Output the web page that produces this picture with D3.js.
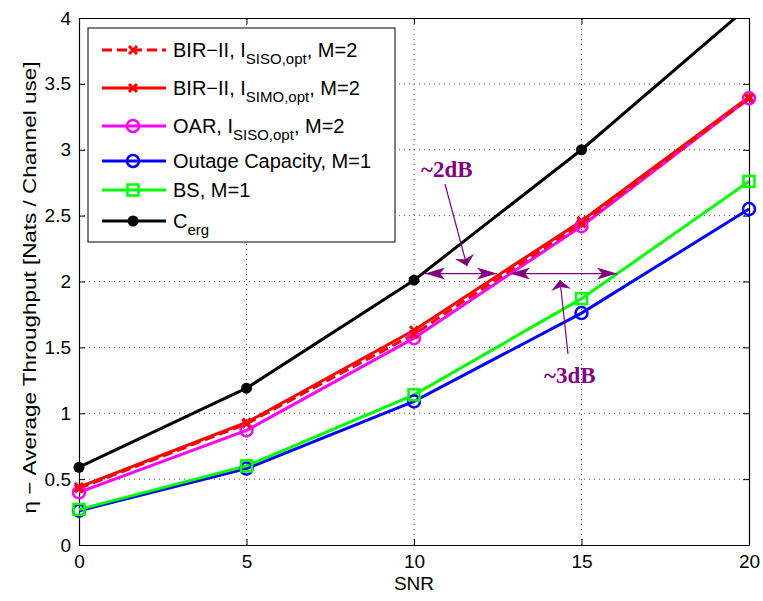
<!DOCTYPE html>
<html><head><meta charset="utf-8">
<script src="https://cdn.jsdelivr.net/npm/d3@7"></script>
<style>body{margin:0;background:#fff}svg{display:block}</style>
</head><body><div id="c"></div>
<script>
const snr = [0, 5, 10, 15, 20];
const birSiso = [0.43, 0.92, 1.60, 2.44, 3.39];
const birSimo = [0.44, 0.93, 1.63, 2.46, 3.40];
const oar = [0.40, 0.87, 1.57, 2.42, 3.39];
const outage = [0.26, 0.58, 1.09, 1.76, 2.55];
const bs = [0.27, 0.60, 1.14, 1.87, 2.76];
const cerg = [0.59, 1.19, 2.01, 3.00, 4.09];
const xTicks = [0, 5, 10, 15, 20];
const yTicks = [0, 0.5, 1, 1.5, 2, 2.5, 3, 3.5, 4];

const SANS = '"Liberation Sans",Arial,Helvetica,sans-serif';
const SERIF = '"Liberation Serif","Times New Roman",serif';
const W = 763, H = 601;
const m = {l: 79, r: 14, t: 18, b: 56};
const svg = d3.select("#c").append("svg").attr("width", W).attr("height", H)
  .attr("font-family", SANS);
const x = d3.scaleLinear().domain([0, 20]).range([m.l, W - m.r]);
const y = d3.scaleLinear().domain([0, 4]).range([H - m.b, m.t]);

svg.append("defs").append("clipPath").attr("id", "clip")
  .append("rect").attr("x", m.l).attr("y", m.t).attr("width", x(20) - m.l).attr("height", y(0) - m.t);

// grid
const g = svg.append("g");
g.selectAll(".gx").data(xTicks.slice(1, -1)).enter().append("line")
  .attr("x1", d => x(d)).attr("x2", d => x(d)).attr("y1", y(0)).attr("y2", y(4))
  .attr("stroke", "#000").attr("stroke-width", 0.7).attr("stroke-dasharray", "1,4");
g.selectAll(".gy").data(yTicks.slice(1, -1)).enter().append("line")
  .attr("y1", d => y(d)).attr("y2", d => y(d)).attr("x1", x(0)).attr("x2", x(20))
  .attr("stroke", "#000").attr("stroke-width", 0.7).attr("stroke-dasharray", "1,4");

// axes
const ax = svg.append("g").attr("transform", `translate(0,${y(0)})`)
  .call(d3.axisBottom(x).tickValues(xTicks).tickSizeInner(-6).tickSizeOuter(0).tickPadding(13));
const ay = svg.append("g").attr("transform", `translate(${x(0)},0)`)
  .call(d3.axisLeft(y).tickValues(yTicks).tickSizeInner(-6).tickSizeOuter(0).tickPadding(8).tickFormat(d3.format("")));
const axT = svg.append("g").attr("transform", `translate(0,${y(4)})`)
  .call(d3.axisTop(x).tickValues(xTicks).tickSizeInner(-6).tickSizeOuter(0).tickFormat(""));
const ayR = svg.append("g").attr("transform", `translate(${x(20)},0)`)
  .call(d3.axisRight(y).tickValues(yTicks).tickSizeInner(-6).tickSizeOuter(0).tickFormat(""));
[ax, ay, axT, ayR].forEach(a => {
  a.attr("font-family", SANS).attr("font-size", 19);
  a.select(".domain").attr("stroke", "#000").attr("stroke-width", 1.2);
  a.selectAll(".tick line").attr("stroke", "#000");
  a.selectAll("text").attr("fill", "#000");
});
ax.selectAll("text").attr("dy", "0.5em");

svg.append("text").attr("x", x(10)).attr("y", 590).attr("text-anchor", "middle")
  .attr("font-size", 19).text("SNR");
svg.append("text").attr("transform", `translate(36,${(y(0) + y(4)) / 2 + 6}) rotate(-90)`)
  .attr("text-anchor", "middle").attr("font-size", 19)
  .attr("textLength", 452).attr("lengthAdjust", "spacingAndGlyphs")
  .text("η − Average Throughput [Nats / Channel use]");

const series = [
  {v: cerg, color: "#000", marker: "dot", dash: null},
  {v: outage, color: "#0000ff", marker: "circle", dash: null},
  {v: bs, color: "#00ff00", marker: "square", dash: null},
  {v: birSimo, color: "#ff0000", marker: "x", dash: null},
  {v: oar, color: "#ff00ff", marker: "circle", dash: null},
  {v: birSiso, color: "#ff0000", marker: "x", dash: "10,5"},
];
const line = d3.line().x((d, i) => x(snr[i])).y(d => y(d));
const plot = svg.append("g").attr("clip-path", "url(#clip)");

function drawMarker(sel, type, color, cx, cy) {
  if (type === "dot") sel.append("circle").attr("cx", cx).attr("cy", cy).attr("r", 5.5).attr("fill", color);
  else if (type === "circle") sel.append("circle").attr("cx", cx).attr("cy", cy).attr("r", 6)
    .attr("fill", "none").attr("stroke", color).attr("stroke-width", 2.5);
  else if (type === "square") sel.append("rect").attr("x", cx - 5.5).attr("y", cy - 5.5).attr("width", 11).attr("height", 11)
    .attr("fill", "none").attr("stroke", color).attr("stroke-width", 2.5);
  else if (type === "x") sel.append("path").attr("d", `M${cx-4},${cy-4}L${cx+4},${cy+4}M${cx-4},${cy+4}L${cx+4},${cy-4}`)
    .attr("stroke", color).attr("stroke-width", 3);
}

series.forEach(s => {
  plot.append("path").datum(s.v).attr("d", line).attr("fill", "none")
    .attr("stroke", s.color).attr("stroke-width", 3).attr("stroke-dasharray", s.dash);
  s.v.forEach((d, i) => { if (d <= 4) drawMarker(svg, s.marker, s.color, x(snr[i]), y(d)); });
});

// annotations
const purple = "#800080";
const ann = svg.append("g");
const defs = svg.select("defs");
defs.append("marker").attr("id", "ah").attr("viewBox", "0 0 20 12").attr("refX", 20).attr("refY", 6)
  .attr("markerWidth", 20).attr("markerHeight", 12).attr("markerUnits", "userSpaceOnUse").attr("orient", "auto-start-reverse")
  .append("path").attr("d", "M0,0L20,6L0,12L5,6Z").attr("fill", purple);
defs.append("marker").attr("id", "ah2").attr("viewBox", "0 0 10 20").attr("refX", 10).attr("refY", 10)
  .attr("markerWidth", 10).attr("markerHeight", 20).attr("markerUnits", "userSpaceOnUse").attr("orient", "auto")
  .append("path").attr("d", "M0,0L10,10L0,20L3,10Z").attr("fill", purple);
const arrowY = y(2.06);
ann.append("line").attr("x1", 425).attr("x2", 497).attr("y1", arrowY).attr("y2", arrowY)
  .attr("stroke", purple).attr("stroke-width", 1.2).attr("marker-start", "url(#ah)").attr("marker-end", "url(#ah)");
ann.append("line").attr("x1", 510).attr("x2", 617).attr("y1", arrowY).attr("y2", arrowY)
  .attr("stroke", purple).attr("stroke-width", 1.2).attr("marker-start", "url(#ah)").attr("marker-end", "url(#ah)");
ann.append("line").attr("x1", 445).attr("y1", 184).attr("x2", 467).attr("y2", 266)
  .attr("stroke", purple).attr("stroke-width", 1.2).attr("marker-end", "url(#ah2)");
ann.append("line").attr("x1", 568).attr("y1", 354).attr("x2", 560).attr("y2", 280)
  .attr("stroke", purple).attr("stroke-width", 1.2).attr("marker-end", "url(#ah2)");
ann.append("text").attr("x", 421).attr("y", 177).attr("fill", purple).attr("font-weight", "bold")
  .attr("font-size", 23).attr("font-family", SERIF).text("~2dB");
ann.append("text").attr("x", 544).attr("y", 383).attr("fill", purple).attr("font-weight", "bold")
  .attr("font-size", 23).attr("font-family", SERIF).text("~3dB");

// legend
const leg = svg.append("g");
leg.append("rect").attr("x", 88).attr("y", 28).attr("width", 307).attr("height", 214)
  .attr("fill", "#fff").attr("stroke", "#000").attr("stroke-width", 1);
const legItems = [
  {s: series[5], parts: ["BIR−II, I", "SISO,opt", ", M=2"], yy: 50},
  {s: series[3], parts: ["BIR−II, I", "SIMO,opt", ", M=2"], yy: 88},
  {s: series[4], parts: ["OAR, I", "SISO,opt", ", M=2"], yy: 126},
  {s: series[1], parts: ["Outage Capacity, M=1"], yy: 161},
  {s: series[2], parts: ["BS, M=1"], yy: 190},
  {s: series[0], parts: ["C", "erg"], yy: 221},
];
legItems.forEach(it => {
  leg.append("line").attr("x1", 102).attr("x2", 166).attr("y1", it.yy).attr("y2", it.yy)
    .attr("stroke", it.s.color).attr("stroke-width", 3).attr("stroke-dasharray", it.s.dash);
  drawMarker(leg, it.s.marker, it.s.color, 133, it.yy);
  const t = leg.append("text").attr("x", 173).attr("y", it.yy + 7).attr("font-size", 20);
  it.parts.forEach((p, i) => {
    if (i === 1) t.append("tspan").attr("font-size", 15).attr("dy", 7).text(p);
    else if (i === 2) t.append("tspan").attr("dy", -7).text(p);
    else t.append("tspan").text(p);
  });
});
</script></body></html>
